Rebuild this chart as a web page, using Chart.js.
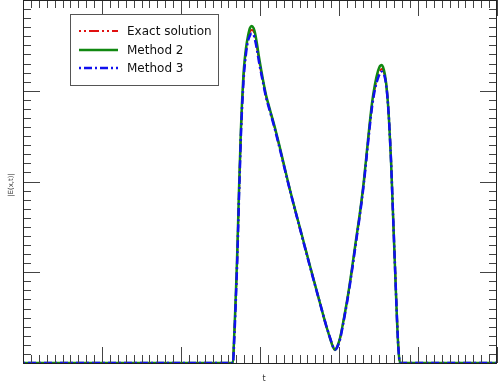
<!DOCTYPE html>
<html>
<head>
<meta charset="utf-8">
<script src="https://cdn.jsdelivr.net/npm/chart.js@4/dist/chart.umd.min.js"></script>
<style>
  html, body { margin: 0; padding: 0; background: #fff; }
  canvas { display: block; }
</style>
</head>
<body>
<canvas id="chart" width="499" height="387"></canvas>
<script>
// time samples
const tValues = [0, 2.60, 2.658,
    2.671, 2.684, 2.696, 2.709, 2.722, 2.734, 2.747, 2.759, 2.772, 2.785, 2.797,
    2.823, 2.848, 2.873, 2.895, 2.918, 2.937, 2.962, 2.987, 3.013, 3.038, 3.076, 3.127, 3.190, 3.253,
    3.380, 3.506, 3.633, 3.759, 3.835, 3.886, 3.924, 3.949,
    3.975, 4.013, 4.063, 4.114, 4.165, 4.215, 4.266, 4.316, 4.367, 4.418,
    4.456, 4.494, 4.519, 4.541, 4.557, 4.582, 4.608, 4.633, 4.658, 4.684, 4.709, 4.734, 4.753,
    4.772, 4.85, 6];

const exactValues = [0, 0, 0,
    0.22, 0.49, 0.77, 1.09, 1.47, 1.86, 2.22, 2.55, 2.83, 3.04, 3.21,
    3.44, 3.57, 3.65, 3.67, 3.66, 3.60, 3.48, 3.34, 3.21, 3.10, 2.94, 2.78, 2.58, 2.36,
    1.90, 1.48, 1.07, 0.66, 0.42, 0.28, 0.18, 0.145,
    0.17, 0.27, 0.49, 0.74, 1.03, 1.34, 1.65, 2.00, 2.44, 2.84,
    3.04, 3.17, 3.22, 3.24, 3.23, 3.16, 2.99, 2.69, 2.25, 1.65, 1.07, 0.50, 0.16,
    0, 0, 0];

const method2Values = [0, 0, 0,
    0.253, 0.529, 0.804, 1.135, 1.521, 1.906, 2.259, 2.590, 2.865, 3.085, 3.251,
    3.471, 3.603, 3.691, 3.714, 3.691, 3.636, 3.515, 3.372, 3.240, 3.118, 2.953, 2.788, 2.590, 2.369,
    1.906, 1.488, 1.069, 0.661, 0.419, 0.275, 0.176, 0.143,
    0.176, 0.275, 0.496, 0.749, 1.047, 1.355, 1.664, 2.017, 2.457, 2.865,
    3.074, 3.218, 3.273, 3.284, 3.262, 3.174, 2.986, 2.678, 2.237, 1.631, 1.047, 0.474, 0.143,
    0, 0, 0];

const method3Values = [0, 0, 0,
    0.20, 0.46, 0.74, 1.05, 1.43, 1.82, 2.18, 2.52, 2.79, 3.01, 3.18,
    3.41, 3.55, 3.61, 3.63, 3.62, 3.56, 3.45, 3.32, 3.20, 3.09, 2.93, 2.77, 2.57, 2.35,
    1.90, 1.48, 1.06, 0.66, 0.42, 0.28, 0.18, 0.145,
    0.17, 0.26, 0.48, 0.73, 1.02, 1.33, 1.64, 1.99, 2.42, 2.82,
    3.02, 3.14, 3.19, 3.21, 3.20, 3.14, 2.98, 2.68, 2.24, 1.64, 1.06, 0.49, 0.15,
    0, 0, 0];

const xMin = 0, xMax = 6, xMinor = 0.1;
const yMin = 0, yMax = 4, yMinor = 0.1;

const toPoints = (vals) => tValues.map((t, i) => ({ x: t, y: vals[i] }));

// frame with inward ticks, axis titles and an inset legend
const framePlugin = {
    id: 'frame',
    afterDraw(chart) {
        const { ctx, chartArea: a, scales: { x, y } } = chart;
        ctx.save();
        ctx.strokeStyle = '#444';
        ctx.lineWidth = 1;
        ctx.beginPath();
        for (let i = 0; i <= Math.round((xMax - xMin) / xMinor); i++) {
            const v = xMin + i * xMinor;
            const px = Math.round(x.getPixelForValue(v)) + 0.5;
            const len = (i % 10 === 0) ? 16 : 8;
            ctx.moveTo(px, a.bottom); ctx.lineTo(px, a.bottom - len);
            ctx.moveTo(px, a.top); ctx.lineTo(px, a.top + len);
        }
        for (let i = 0; i <= Math.round((yMax - yMin) / yMinor); i++) {
            const v = yMin + i * yMinor;
            const py = Math.round(y.getPixelForValue(v)) + 0.5;
            const len = (i % 10 === 0) ? 17 : 8;
            ctx.moveTo(a.left, py); ctx.lineTo(a.left + len, py);
            ctx.moveTo(a.right, py); ctx.lineTo(a.right - len, py);
        }
        ctx.stroke();
        ctx.strokeStyle = '#222';
        ctx.strokeRect(Math.round(a.left) + 0.5, Math.round(a.top) + 0.5,
            Math.round(a.right - a.left) - 1, Math.round(a.bottom - a.top));

        // axis titles
        ctx.fillStyle = '#333';
        ctx.font = '8px "DejaVu Sans"';
        ctx.textAlign = 'center';
        ctx.textBaseline = 'middle';
        ctx.fillText('t', 264, 379);
        ctx.translate(11, 185);
        ctx.rotate(-Math.PI / 2);
        ctx.font = '7px "DejaVu Sans"';
        ctx.fillText('|E(x,t)|', 0, 0);
        ctx.restore();

        // legend
        ctx.save();
        ctx.fillStyle = '#fff';
        ctx.fillRect(70, 14, 148, 71);
        ctx.strokeStyle = '#555';
        ctx.lineWidth = 1;
        ctx.strokeRect(70.5, 14.5, 148, 71);
        const rows = [31, 50, 68];
        chart.data.datasets.forEach((ds, i) => {
            ctx.beginPath();
            ctx.strokeStyle = ds.borderColor;
            ctx.lineWidth = ds.borderWidth;
            ctx.setLineDash(ds.borderDash || []);
            ctx.moveTo(79, rows[i]);
            ctx.lineTo(118, rows[i]);
            ctx.stroke();
            ctx.setLineDash([]);
            ctx.fillStyle = '#111';
            ctx.font = '12px "DejaVu Sans"';
            ctx.textAlign = 'left';
            ctx.textBaseline = 'middle';
            ctx.fillText(ds.label, 127, rows[i] + 1);
        });
        ctx.restore();
    },
};

new Chart(document.getElementById('chart'), {
    type: 'line',
    data: {
        datasets: [
            {
                label: 'Exact solution',
                data: toPoints(exactValues),
                borderColor: '#e01010',
                borderWidth: 2,
                borderDash: [2, 3, 2, 3, 10, 3],
                order: 3,
            },
            {
                label: 'Method 2',
                data: toPoints(method2Values),
                borderColor: '#118811',
                borderWidth: 2.5,
                order: 2,
            },
            {
                label: 'Method 3',
                data: toPoints(method3Values),
                borderColor: '#1010ee',
                borderWidth: 2.5,
                borderDash: [2, 3, 8, 3],
                order: 1,
            },
        ],
    },
    options: {
        responsive: false,
        animation: false,
        devicePixelRatio: 1,
        elements: { point: { radius: 0 }, line: { cubicInterpolationMode: 'monotone' } },
        layout: { padding: { left: 23, right: 2, top: 0, bottom: 24 } },
        scales: {
            x: { type: 'linear', min: xMin, max: xMax, display: false },
            y: { type: 'linear', min: yMin, max: yMax, display: false },
        },
        plugins: {
            legend: { display: false },
            title: { display: false },
            tooltip: { enabled: false },
        },
    },
    plugins: [framePlugin],
});
</script>
</body>
</html>
